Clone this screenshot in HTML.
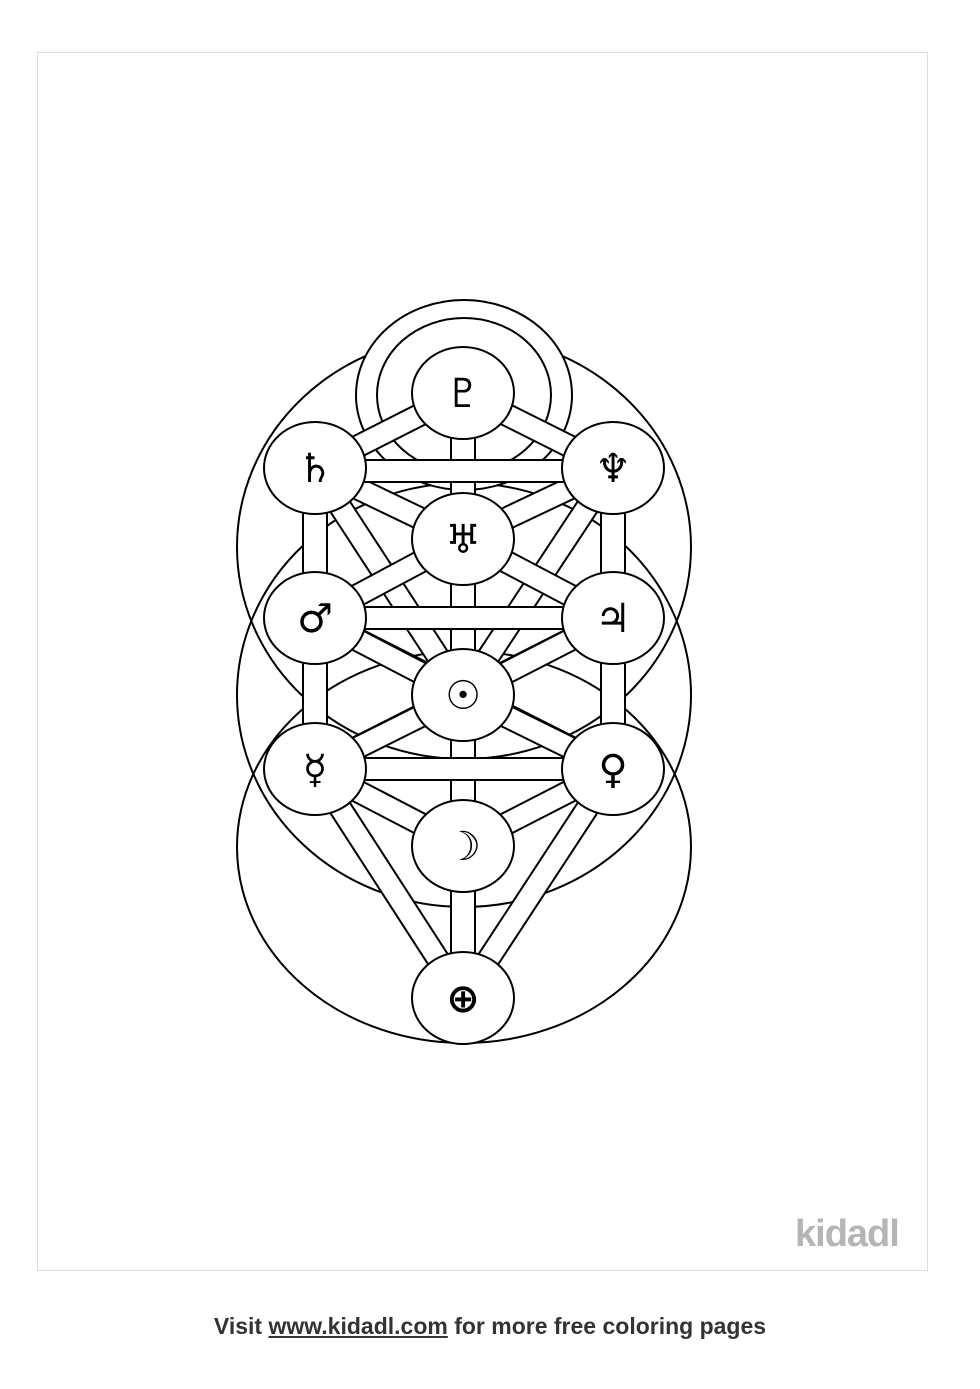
<!DOCTYPE html>
<html><head><meta charset="utf-8"><style>
html,body{margin:0;padding:0;background:#fff;}
body{width:980px;height:1389px;position:relative;overflow:hidden;font-family:"Liberation Sans",sans-serif;}
.frame{position:absolute;left:37px;top:52px;width:889px;height:1217px;border:1px solid #ddd;}
.logo{position:absolute;left:795px;top:1213px;font-size:38px;font-weight:bold;color:#b5b5b5;letter-spacing:-1px;}
.foot{position:absolute;left:0;width:980px;top:1313px;text-align:center;font-size:23px;font-weight:bold;color:#333;}
.foot u{text-decoration:underline;}
</style></head><body>
<div class="frame"></div>
<svg width="980" height="1389" style="position:absolute;left:0;top:0" xmlns="http://www.w3.org/2000/svg">
<g fill="none" stroke="#000" stroke-width="2">
<ellipse cx="464" cy="547" rx="227" ry="212"/>
<ellipse cx="464" cy="695" rx="227" ry="212"/>
<ellipse cx="464" cy="847" rx="227" ry="196"/>
</g>
<g fill="#fff" stroke="#000" stroke-width="2">
<ellipse cx="464" cy="395" rx="108" ry="95"/>
<ellipse cx="464" cy="395" rx="87" ry="77"/>
</g>
<g>
<g stroke="#000" stroke-width="24"><line x1="315" y1="468" x2="463" y2="695"/><line x1="613" y1="468" x2="463" y2="695"/><line x1="315" y1="618" x2="613" y2="769"/><line x1="613" y1="618" x2="315" y2="769"/></g>
<g stroke="#fff" stroke-width="20"><line x1="315" y1="468" x2="463" y2="695"/><line x1="613" y1="468" x2="463" y2="695"/><line x1="315" y1="618" x2="613" y2="769"/><line x1="613" y1="618" x2="315" y2="769"/></g>
<g stroke="#000" stroke-width="24"><line x1="463" y1="393" x2="315" y2="468"/><line x1="463" y1="393" x2="613" y2="468"/><line x1="315" y1="468" x2="463" y2="539"/><line x1="613" y1="468" x2="463" y2="539"/><line x1="463" y1="539" x2="315" y2="618"/><line x1="463" y1="539" x2="613" y2="618"/><line x1="315" y1="618" x2="463" y2="695"/><line x1="613" y1="618" x2="463" y2="695"/><line x1="463" y1="695" x2="315" y2="769"/><line x1="463" y1="695" x2="613" y2="769"/><line x1="315" y1="769" x2="463" y2="846"/><line x1="613" y1="769" x2="463" y2="846"/><line x1="315" y1="769" x2="463" y2="998"/><line x1="613" y1="769" x2="463" y2="998"/></g>
<g stroke="#fff" stroke-width="20"><line x1="463" y1="393" x2="315" y2="468"/><line x1="463" y1="393" x2="613" y2="468"/><line x1="315" y1="468" x2="463" y2="539"/><line x1="613" y1="468" x2="463" y2="539"/><line x1="463" y1="539" x2="315" y2="618"/><line x1="463" y1="539" x2="613" y2="618"/><line x1="315" y1="618" x2="463" y2="695"/><line x1="613" y1="618" x2="463" y2="695"/><line x1="463" y1="695" x2="315" y2="769"/><line x1="463" y1="695" x2="613" y2="769"/><line x1="315" y1="769" x2="463" y2="846"/><line x1="613" y1="769" x2="463" y2="846"/><line x1="315" y1="769" x2="463" y2="998"/><line x1="613" y1="769" x2="463" y2="998"/></g>
<g stroke="#000" stroke-width="26"><line x1="463" y1="393" x2="463" y2="998"/><line x1="315" y1="468" x2="315" y2="769"/><line x1="613" y1="468" x2="613" y2="769"/></g>
<g stroke="#fff" stroke-width="22"><line x1="463" y1="393" x2="463" y2="998"/><line x1="315" y1="468" x2="315" y2="769"/><line x1="613" y1="468" x2="613" y2="769"/></g>
<g stroke="#000" stroke-width="24"><line x1="315" y1="471" x2="613" y2="471"/><line x1="315" y1="618" x2="613" y2="618"/><line x1="315" y1="769" x2="613" y2="769"/></g>
<g stroke="#fff" stroke-width="20"><line x1="315" y1="471" x2="613" y2="471"/><line x1="315" y1="618" x2="613" y2="618"/><line x1="315" y1="769" x2="613" y2="769"/></g>
</g>
<g fill="#fff" stroke="#000" stroke-width="2">
<ellipse cx="463" cy="393" rx="51" ry="46"/>
<ellipse cx="315" cy="468" rx="51" ry="46"/>
<ellipse cx="613" cy="468" rx="51" ry="46"/>
<ellipse cx="463" cy="539" rx="51" ry="46"/>
<ellipse cx="315" cy="618" rx="51" ry="46"/>
<ellipse cx="613" cy="618" rx="51" ry="46"/>
<ellipse cx="463" cy="695" rx="51" ry="46"/>
<ellipse cx="315" cy="769" rx="51" ry="46"/>
<ellipse cx="613" cy="769" rx="51" ry="46"/>
<ellipse cx="463" cy="846" rx="51" ry="46"/>
<ellipse cx="463" cy="998" rx="51" ry="46"/>
</g>
<g font-family="DejaVu Sans, sans-serif" font-size="40" font-weight="bold" text-anchor="middle" fill="#000">
<text x="463" y="407">♇</text>
<text x="315" y="482">♄</text>
<text x="613" y="482">♆</text>
<text x="463" y="553">♅</text>
<text x="315" y="632">♂</text>
<text x="613" y="632">♃</text>
<text x="463" y="709">☉</text>
<text x="315" y="783">☿</text>
<text x="613" y="783">♀</text>
<text x="463" y="860">☽</text>
<text x="463" y="1012">⊕</text>
</g>
</svg>
<div class="logo">kidadl</div>
<div class="foot">Visit <u>www.kidadl.com</u> for more free coloring pages</div>
</body></html>
